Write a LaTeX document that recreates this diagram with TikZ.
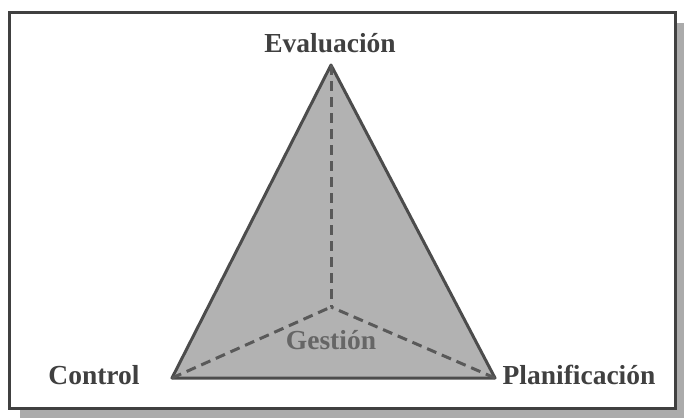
\documentclass[tikz,border=0pt]{standalone}
\usepackage{fontspec}
\setmainfont{Liberation Serif}
\begin{document}
\begin{tikzpicture}[x=1pt,y=-1pt,
  lbl/.style={font=\fontsize{27.5}{30}\selectfont\bfseries, text=black!75, inner sep=0pt},
  frameline/.style={draw=black!75, line width=3pt, fill=white},
  tri/.style={draw=black!70, line width=3pt, fill=black!30, line join=round},
  dashline/.style={draw=black!65, line width=3pt, dash pattern=on 10pt off 6pt}]
\useasboundingbox (0,0) rectangle (684,418);
% shadow
\fill[black!33] (20,23) rectangle (684,418);
\draw[frameline] (9,12) rectangle (675,408);
% triangle
\coordinate (E) at (331,65);
\coordinate (C) at (172,378);
\coordinate (P) at (495,378);
\coordinate (G) at (331,307);
\draw[tri] (E) -- (P) -- (C) -- cycle;
\draw[dashline] (E) -- (G);
\draw[dashline] (C) -- (G);
\draw[dashline] (P) -- (G);
% labels
\node[lbl] (ev) at (330,43) {Evaluación};
\node[lbl] (co) at (94,375) {Control};
\node[lbl] (pl) at (579,375) {Planificación};
\node[lbl, text=black!60] (ge) at (331,340) {Gestión};
\end{tikzpicture}
\end{document}
